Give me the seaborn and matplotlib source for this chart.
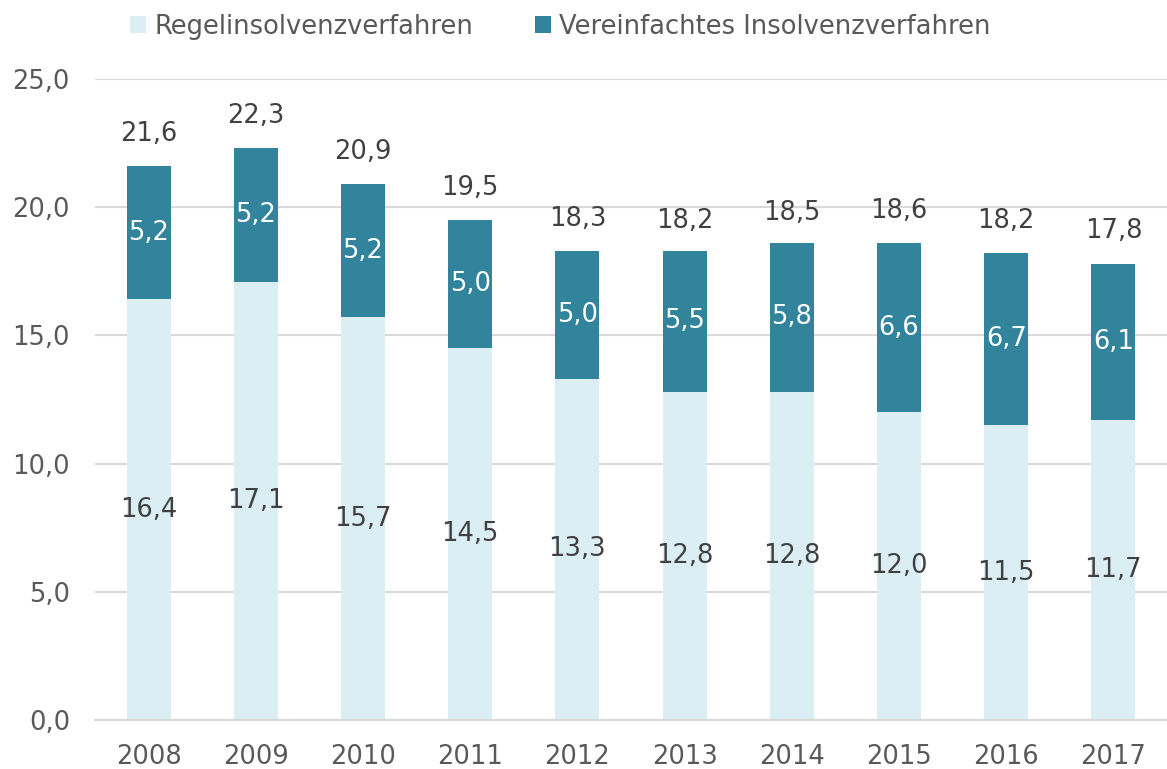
import matplotlib
matplotlib.use("Agg")
import matplotlib.pyplot as plt
import seaborn as sns
import pandas as pd
import numpy as np

years = ["2008", "2009", "2010", "2011", "2012", "2013", "2014", "2015", "2016", "2017"]
regel = [16.4, 17.1, 15.7, 14.5, 13.3, 12.8, 12.8, 12.0, 11.5, 11.7]
vereinfacht = [5.2, 5.2, 5.2, 5.0, 5.0, 5.5, 5.8, 6.6, 6.7, 6.1]
totals = [21.6, 22.3, 20.9, 19.5, 18.3, 18.2, 18.5, 18.6, 18.2, 17.8]
yticks = [0, 5, 10, 15, 20, 25]

light = "#DAEEF3"
dark = "#31849B"

sns.set_theme(style="white", font="DejaVu Sans")
plt.rcParams['font.family'] = ['DejaVu Sans']
plt.rcParams['font.sans-serif'] = ['DejaVu Sans']

df = pd.DataFrame({"year": years, "regel": regel, "ver": vereinfacht, "total": totals})

fig = plt.figure(figsize=(11.67, 7.69), dpi=100)
ax = fig.add_axes([0.0814, 0.0637, 0.9186, 0.8336])

sns.barplot(data=df, x="year", y="regel", color=light, width=0.41, ax=ax,
            saturation=1, label="Regelinsolvenzverfahren", zorder=2, linewidth=0)
sns.barplot(data=df, x="year", y="ver", color=dark, width=0.41, ax=ax,
            saturation=1, bottom=df["regel"].values, label="Vereinfachtes Insolvenzverfahren",
            zorder=2, linewidth=0)

FS = 18.5
fmt = lambda v: f"{v:.1f}".replace(".", ",")
for i in range(len(years)):
    ax.text(i, regel[i] / 2, fmt(regel[i]), ha="center", va="center", fontsize=FS,
            color="#404040", family="DejaVu Sans")
    ax.text(i, regel[i] + vereinfacht[i] / 2, fmt(vereinfacht[i]), ha="center", va="center",
            fontsize=FS, color="white", family="DejaVu Sans")
    ax.text(i, totals[i] + 0.75, fmt(totals[i]), ha="center", va="bottom", fontsize=FS,
            color="#404040", family="DejaVu Sans")

ax.set_ylim(0, 25)
ax.set_xlim(-0.5, len(years) - 0.5)
ax.set_yticks(yticks)
ax.set_yticklabels([fmt(v) for v in yticks], family="DejaVu Sans")
ax.set_xticks(range(len(years)))
ax.set_xticklabels(years, family="DejaVu Sans")
ax.yaxis.grid(True, color="#D9D9D9", linewidth=1.5, zorder=0)
ax.set_axisbelow(True)
for s in ["top", "right", "left"]:
    ax.spines[s].set_visible(False)
ax.spines["bottom"].set_color("#D9D9D9")
ax.spines["bottom"].set_linewidth(1.5)
ax.tick_params(axis="both", labelsize=FS, colors="#595959", length=0)
ax.tick_params(axis="x", pad=17)
ax.tick_params(axis="y", pad=18)
ax.set_xlabel("")
ax.set_ylabel("")

handles, labels = ax.get_legend_handles_labels()
if ax.get_legend():
    ax.get_legend().remove()
fig.legend(handles, labels, loc="upper center", bbox_to_anchor=(0.48, 1.012), ncol=2,
           frameon=False, prop={"family": "DejaVu Sans", "size": FS}, labelcolor="#595959",
           handlelength=0.65, handleheight=0.65, handletextpad=0.3, columnspacing=2.4)

fig.savefig("out.png", dpi=100)
